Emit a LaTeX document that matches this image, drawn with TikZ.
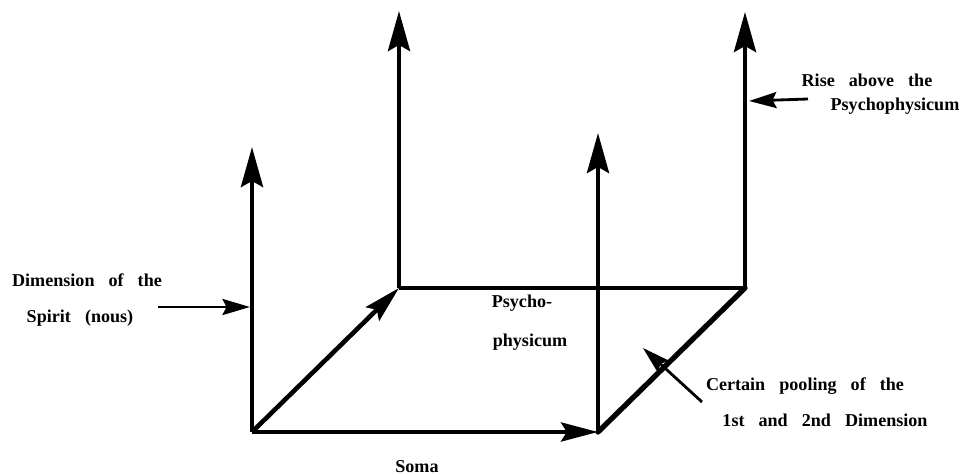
\documentclass[tikz,border=0pt]{standalone}
\usepackage{fontspec}
\setmainfont{Liberation Serif}
\usepackage{tikz}
\usetikzlibrary{arrows.meta}
\usetikzlibrary{positioning}
\newcommand{\labelfont}{\fontsize{10.3}{12}\selectfont\bfseries\spaceskip=8pt plus 1pt\relax}

\begin{document}
\begin{tikzpicture}[x=0.02cm, y=-0.02cm,
    axis/.style={line width=2.6pt, -{Stealth[length=0.8cm, width=0.44cm, inset=0.12cm]}},
    baseaxis/.style={line width=2.6pt, -{Stealth[length=0.74cm, width=0.38cm, inset=0.12cm]}},
    rim/.style={line width=1.8pt},
    pointer/.style={line width=1.6pt, -{Stealth[length=0.55cm, width=0.32cm, inset=0.08cm]}},
    txt/.style={font=\labelfont, inner sep=0pt}]
    \useasboundingbox (0,0) rectangle (971,476);

    \coordinate (o) at (252,432);
    \coordinate (a) at (598,432);
    \coordinate (b) at (399,288);
    \coordinate (c) at (745,288);
    \coordinate (ot) at (252,147);
    \coordinate (at) at (598,133);
    \coordinate (bt) at (399,11);
    \coordinate (ct) at (745,12);

    \draw[rim] (b) -- (c);
    \draw[line width=3pt, line cap=round] (a) -- (c);
    \draw[axis] (o) -- (ot);
    \draw[axis] (b) -- (bt);
    \draw[axis] (a) -- (at);
    \draw[axis] (c) -- (ct);
    \draw[baseaxis] (o) -- (b);
    \draw[baseaxis] (o) -- (a);

    \node[txt] (dim1) at (87,280) {Dimension of the};
    \node[txt] (dim2) at (80,318) {Spirit (nous)};
    \node[txt] (rise1) at (867,80) {Rise above the};
    \node[txt] (rise2) at (895,106) {Psychophysicum};
    \node[txt] (psy1) at (522,303) {Psycho-};
    \node[txt] (psy2) at (530,342) {physicum};
    \node[txt] (pool1) at (805,386) {Certain pooling of the};
    \node[txt] (pool2) at (825,420) {1st and 2nd Dimension};
    \node[txt] (soma) at (417,467) {Soma};

    \coordinate (dimtail) at (158,307);
    \coordinate (dimtip) at (250,307);
    \coordinate (risetail) at (808,99);
    \coordinate (risetip) at (749,101);
    \coordinate (pooltail) at (702,402);
    \coordinate (pooltip) at (643,348);

    \draw[pointer] (dimtail) -- (dimtip);
    \draw[pointer] (risetail) -- (risetip);
    \draw[pointer] (pooltail) -- (pooltip);
\end{tikzpicture}
\end{document}
